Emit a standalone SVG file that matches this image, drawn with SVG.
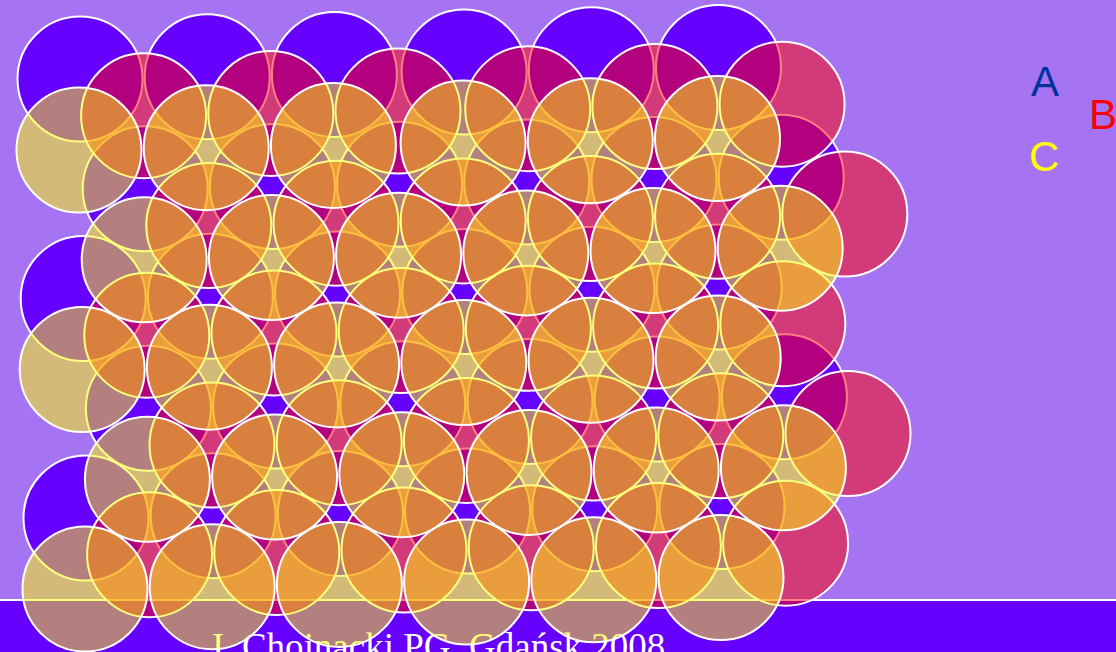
<svg xmlns="http://www.w3.org/2000/svg" width="1116" height="652" viewBox="0 0 1116 652">
<style>
.a{fill:#6600ff;stroke:#ffffff;stroke-width:2}
.b{fill:#ff0000;fill-opacity:0.5;stroke:#ffffff;stroke-width:2}
.c{fill:#ffff00;fill-opacity:0.5;stroke:#ffffff;stroke-width:2}
.lbl{font-family:"Liberation Sans",Arial,sans-serif;font-size:42px}
</style>
<rect x="0" y="0" width="1116" height="652" fill="#a674f2"/>
<rect id="bar" x="-5" y="600" width="1126" height="60" fill="#6600ff" stroke="#ffffff" stroke-width="2"/>
<text id="credit" x="209" y="659" font-family="'Liberation Serif','Times New Roman',serif" font-size="37" fill="#ffffff">J. Chojnacki PG, Gdańsk 2008</text>
<g id="layerA">
<circle class="a" cx="80" cy="79" r="62.5"/><circle class="a" cx="207.2" cy="76.7" r="62.5"/><circle class="a" cx="334.4" cy="74.4" r="62.5"/><circle class="a" cx="464.1" cy="72.1" r="62.5"/><circle class="a" cx="591.3" cy="69.8" r="62.5"/><circle class="a" cx="718.5" cy="67.5" r="62.5"/>
<circle class="a" cx="145.2" cy="188.8" r="62.5"/><circle class="a" cx="272.4" cy="186.5" r="62.5"/><circle class="a" cx="399.6" cy="184.2" r="62.5"/><circle class="a" cx="526.8" cy="181.9" r="62.5"/><circle class="a" cx="654" cy="179.6" r="62.5"/><circle class="a" cx="781.2" cy="177.3" r="62.5"/>
<circle class="a" cx="83.2" cy="298.5" r="62.5"/><circle class="a" cx="210.4" cy="296.2" r="62.5"/><circle class="a" cx="337.6" cy="293.9" r="62.5"/><circle class="a" cx="464.8" cy="291.6" r="62.5"/><circle class="a" cx="592" cy="289.3" r="62.5"/><circle class="a" cx="719.2" cy="287" r="62.5"/>
<circle class="a" cx="148.4" cy="408.3" r="62.5"/><circle class="a" cx="275.6" cy="406" r="62.5"/><circle class="a" cx="402.8" cy="403.7" r="62.5"/><circle class="a" cx="530" cy="401.4" r="62.5"/><circle class="a" cx="657.2" cy="399.1" r="62.5"/><circle class="a" cx="784.4" cy="396.8" r="62.5"/>
<circle class="a" cx="86" cy="518" r="62.5"/><circle class="a" cx="213.2" cy="515.7" r="62.5"/><circle class="a" cx="340.4" cy="513.4" r="62.5"/><circle class="a" cx="467.6" cy="511.1" r="62.5"/><circle class="a" cx="594.8" cy="508.8" r="62.5"/><circle class="a" cx="722" cy="506.5" r="62.5"/>
</g>
<g id="layerB">
<circle class="b" cx="143.6" cy="115.7" r="62.5"/><circle class="b" cx="270.8" cy="113.4" r="62.5"/><circle class="b" cx="398" cy="111.1" r="62.5"/><circle class="b" cx="527.7" cy="108.8" r="62.5"/><circle class="b" cx="654.9" cy="106.5" r="62.5"/><circle class="b" cx="782.1" cy="104.2" r="62.5"/>
<circle class="b" cx="208.8" cy="225.5" r="62.5"/><circle class="b" cx="336" cy="223.2" r="62.5"/><circle class="b" cx="463.2" cy="220.9" r="62.5"/><circle class="b" cx="590.4" cy="218.6" r="62.5"/><circle class="b" cx="717.6" cy="216.3" r="62.5"/><circle class="b" cx="844.8" cy="214" r="62.5"/>
<circle class="b" cx="146.8" cy="335.2" r="62.5"/><circle class="b" cx="274" cy="332.9" r="62.5"/><circle class="b" cx="401.2" cy="330.6" r="62.5"/><circle class="b" cx="528.4" cy="328.3" r="62.5"/><circle class="b" cx="655.6" cy="326" r="62.5"/><circle class="b" cx="782.8" cy="323.7" r="62.5"/>
<circle class="b" cx="212" cy="445" r="62.5"/><circle class="b" cx="339.2" cy="442.7" r="62.5"/><circle class="b" cx="466.4" cy="440.4" r="62.5"/><circle class="b" cx="593.6" cy="438.1" r="62.5"/><circle class="b" cx="720.8" cy="435.8" r="62.5"/><circle class="b" cx="848" cy="433.5" r="62.5"/>
<circle class="b" cx="149.6" cy="554.7" r="62.5"/><circle class="b" cx="276.8" cy="552.4" r="62.5"/><circle class="b" cx="404" cy="550.1" r="62.5"/><circle class="b" cx="531.2" cy="547.8" r="62.5"/><circle class="b" cx="658.4" cy="545.5" r="62.5"/><circle class="b" cx="785.6" cy="543.2" r="62.5"/>
</g>
<g id="layerC">
<circle class="c" cx="79" cy="150" r="62.5"/><circle class="c" cx="206.2" cy="147.7" r="62.5"/><circle class="c" cx="333.4" cy="145.4" r="62.5"/><circle class="c" cx="463.1" cy="143.1" r="62.5"/><circle class="c" cx="590.3" cy="140.8" r="62.5"/><circle class="c" cx="717.5" cy="138.5" r="62.5"/>
<circle class="c" cx="144.2" cy="259.8" r="62.5"/><circle class="c" cx="271.4" cy="257.5" r="62.5"/><circle class="c" cx="398.6" cy="255.2" r="62.5"/><circle class="c" cx="525.8" cy="252.9" r="62.5"/><circle class="c" cx="653" cy="250.6" r="62.5"/><circle class="c" cx="780.2" cy="248.3" r="62.5"/>
<circle class="c" cx="82.2" cy="369.5" r="62.5"/><circle class="c" cx="209.4" cy="367.2" r="62.5"/><circle class="c" cx="336.6" cy="364.9" r="62.5"/><circle class="c" cx="463.8" cy="362.6" r="62.5"/><circle class="c" cx="591" cy="360.3" r="62.5"/><circle class="c" cx="718.2" cy="358" r="62.5"/>
<circle class="c" cx="147.4" cy="479.3" r="62.5"/><circle class="c" cx="274.6" cy="477" r="62.5"/><circle class="c" cx="401.8" cy="474.7" r="62.5"/><circle class="c" cx="529" cy="472.4" r="62.5"/><circle class="c" cx="656.2" cy="470.1" r="62.5"/><circle class="c" cx="783.4" cy="467.8" r="62.5"/>
<circle class="c" cx="85" cy="589" r="62.5"/><circle class="c" cx="212.2" cy="586.7" r="62.5"/><circle class="c" cx="339.4" cy="584.4" r="62.5"/><circle class="c" cx="466.6" cy="582.1" r="62.5"/><circle class="c" cx="593.8" cy="579.8" r="62.5"/><circle class="c" cx="721" cy="577.5" r="62.5"/>
</g>
<g id="labels">
<text id="labelA" class="lbl" x="1031" y="96" fill="#003399">A</text>
<text id="labelB" class="lbl" x="1089" y="129" fill="#ff0000">B</text>
<text id="labelC" class="lbl" x="1029" y="171" fill="#ffff00">C</text>
</g>
</svg>
